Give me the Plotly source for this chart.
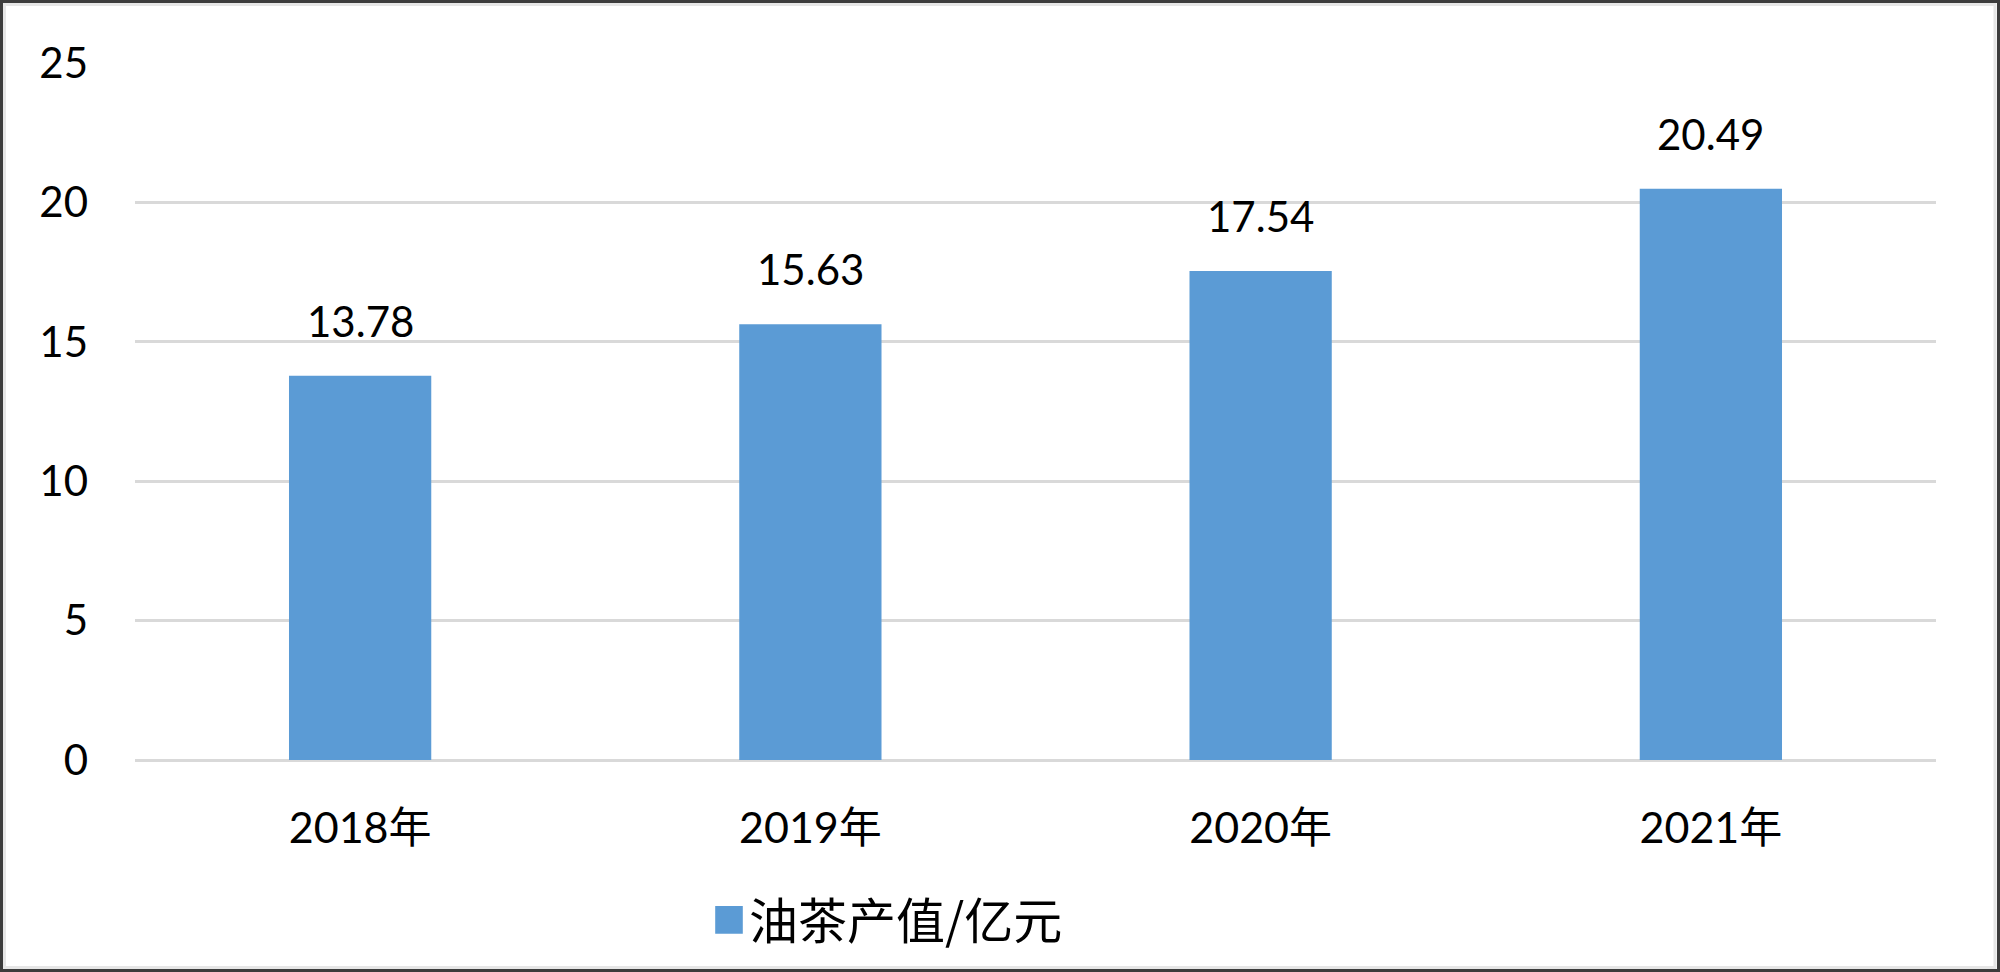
import plotly.graph_objects as go

categories = ["2018年", "2019年", "2020年", "2021年"]
values = [13.78, 15.63, 17.54, 20.49]
value_labels = ["13.78", "15.63", "17.54", "20.49"]
series_name = "油茶产值/亿元"
y_ticks = [0, 5, 10, 15, 20, 25]

W, H = 2000, 972
L, R, T, B = 135, 64, 63, 212
pw, ph = W - L - R, H - T - B

FONT = "Lato, 'Noto Sans CJK SC', sans-serif"

fig = go.Figure()
fig.add_trace(go.Bar(
    x=categories, y=values, name=series_name,
    marker=dict(color="#5b9bd5", line=dict(width=0)),
    width=0.316, showlegend=True,
))

for c, v, t in zip(categories, values, value_labels):
    fig.add_annotation(x=c, y=v, text=t, showarrow=False, yanchor="bottom",
                       yshift=28, font=dict(family=FONT, size=42, color="#000000"))

def px2x(px):
    return (px - L) / pw

def py2y(py):
    return (H - B - py) / ph

# outer frame
fig.add_shape(type="rect", xref="paper", yref="paper",
              x0=px2x(1.5), x1=px2x(W - 1.5), y0=py2y(H - 1.5), y1=py2y(1.5),
              line=dict(color="#3c3c3c", width=3), layer="above")
fig.add_shape(type="rect", xref="paper", yref="paper",
              x0=px2x(4.5), x1=px2x(W - 5), y0=py2y(H - 4.5), y1=py2y(4.5),
              line=dict(color="#e6e6e6", width=3), layer="above")

fig.update_layout(
    width=W, height=H,
    margin=dict(l=L, r=R, t=T, b=B, pad=0),
    paper_bgcolor="white", plot_bgcolor="white",
    font=dict(family=FONT, size=42, color="#000000"),
    bargap=0.684,
    legend=dict(orientation="h", x=px2x(709), xanchor="left", y=py2y(920), yanchor="middle",
                font=dict(family="'Noto Sans CJK SC', sans-serif", size=49, color="#000000"),
                bgcolor="rgba(0,0,0,0)", itemwidth=30),
    xaxis=dict(showgrid=False, showline=False, ticks="", ticklabelstandoff=39,
               tickfont=dict(family=FONT, size=43, color="#000000")),
    yaxis=dict(range=[0, 25], tickvals=y_ticks, showgrid=True, gridcolor="#d9d9d9", gridwidth=3,
               zeroline=True, zerolinecolor="#d9d9d9", zerolinewidth=3, showline=False,
               ticks="", ticklabelstandoff=46,
               tickfont=dict(family=FONT, size=42, color="#000000")),
)

post = """
document.body.style.margin = '0';
document.body.style.overflow = 'hidden';
document.querySelectorAll('.legendpoints path').forEach(function(p){
  var t = p.getAttribute('transform') || '';
  p.setAttribute('transform', t + ' scale(2.3)');
});
"""
fig.write_html("out.html", post_script=post, config={"displayModeBar": False})
